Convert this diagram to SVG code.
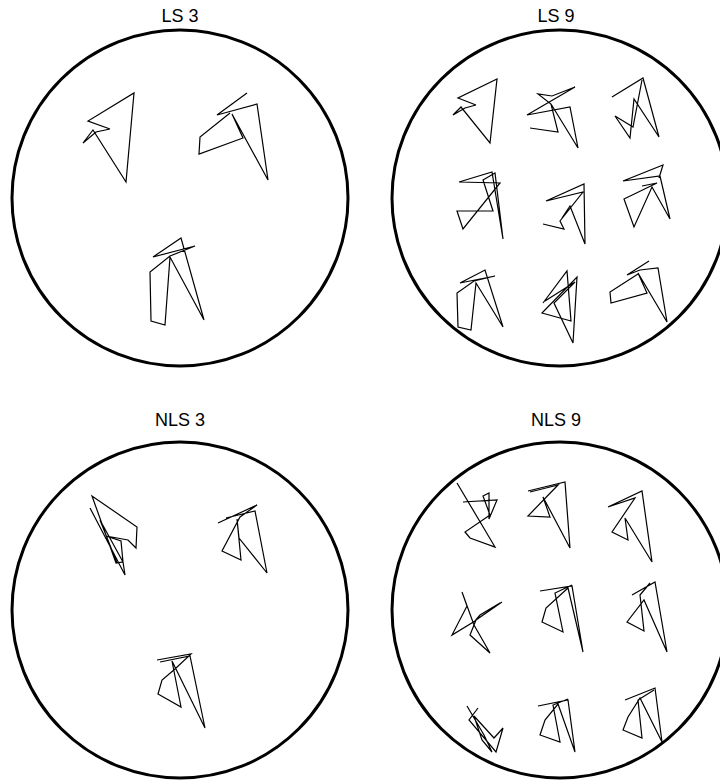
<svg xmlns="http://www.w3.org/2000/svg" width="720" height="781" viewBox="0 0 720 781">
<style>
.c{fill:none;stroke:#000;stroke-width:3}
.s{fill:none;stroke:#000;stroke-width:1.2;stroke-linejoin:miter}
.t{font-family:"Liberation Sans",Arial,sans-serif;font-size:18px;text-anchor:middle;fill:#000}
</style>
<rect width="720" height="781" fill="#fff"/>
<g id="ls3">
<text class="t" x="180" y="22">LS 3</text>
<circle class="c" cx="180" cy="198" r="168"/>
<polyline class="s" points="110,129 88,121 134,93 126,182 93,130 83,143 96,132 110,129"/>
<polyline class="s" points="247,93 217,115 228,112 257,104 268,180 232,114 243,138 199,154 200,137 230,113"/>
<polyline class="s" points="204,320 181,238 153,257 195,246 170,256 150,272 151,321 165,325 170,257 204,320"/>
</g>
<g id="ls9">
<text class="t" x="556" y="22">LS 9</text>
<circle class="c" cx="560" cy="198" r="168"/>
<polyline class="s" points="476,105 458,98 497,79 490,143 461,107 453,115 465,108 476,105"/>
<polyline class="s" points="530,128 558,132 551,104 538,94 552,96 575,87 527,115 570,107 578,148 551,104"/>
<polyline class="s" points="612,97 643,78 659,137 634,99 630,138 615,116 633,127 642,80"/>
<polyline class="s" points="503,239 492,172 459,182 500,183 463,229 457,211 493,211 483,180 495,173 503,239"/>
<polyline class="s" points="543,224 564,229 560,221 583,192 546,201 584,184 585,244 570,206 562,218"/>
<polyline class="s" points="642,186 657,183 624,199 634,227 652,187 670,219 660,176 623,181 663,165 659,178"/>
<polyline class="s" points="503,327 485,270 460,283 495,276 474,281 457,293 458,327 471,330 476,283 503,327"/>
<polyline class="s" points="543,303 567,271 571,321 542,313 577,277 573,343 554,303 575,282 545,301"/>
<polyline class="s" points="649,261 627,275 640,270 658,268 667,322 638,273 647,293 611,303 610,292 638,274"/>
</g>
<g id="nls3">
<text class="t" x="180" y="426">NLS 3</text>
<circle class="c" cx="180" cy="610" r="168"/>
<polyline class="s" points="90,508 125,575 123,562 116,563 92,496 137,527 136,548 128,540 106,536 121,541 123,562 100,520 117,563"/>
<polyline class="s" points="218,523 257,505 240,517 222,551 241,560 237,519 239,538 267,573 255,511 226,518"/>
<polyline class="s" points="157,660 191,654 175,669 162,680 158,694 181,707 172,661 205,728 190,656 160,662"/>
</g>
<g id="nls9">
<text class="t" x="556" y="426">NLS 9</text>
<circle class="c" cx="560" cy="610" r="168"/>
<polyline class="s" points="457,483 495,547 470,538 465,532 490,515 483,496 489,493 489,519 497,500 463,502"/>
<polyline class="s" points="528,491 565,482 570,548 543,497 550,517 528,516 558,485 530,492"/>
<polyline class="s" points="608,507 642,491 652,562 625,518 628,540 612,532 635,498 608,507"/>
<polyline class="s" points="502,602 476,620 470,635 490,653 474,625 462,592 467,606 452,635 475,621 480,615 500,603"/>
<polyline class="s" points="540,591 572,586 583,652 568,588 546,608 542,622 563,632 555,593 572,585"/>
<polyline class="s" points="632,595 655,582 667,652 644,600 627,622 644,631 640,595 650,583"/>
<polyline class="s" points="467,706 484,735 492,752 482,740 474,716 494,738 503,728 496,752 469,720 478,708"/>
<polyline class="s" points="538,706 568,700 575,752 558,704 545,720 540,735 560,742 553,705 568,699"/>
<polyline class="s" points="625,700 655,688 662,742 640,698 628,717 623,730 642,738 638,700 654,690"/>
</g>
</svg>
